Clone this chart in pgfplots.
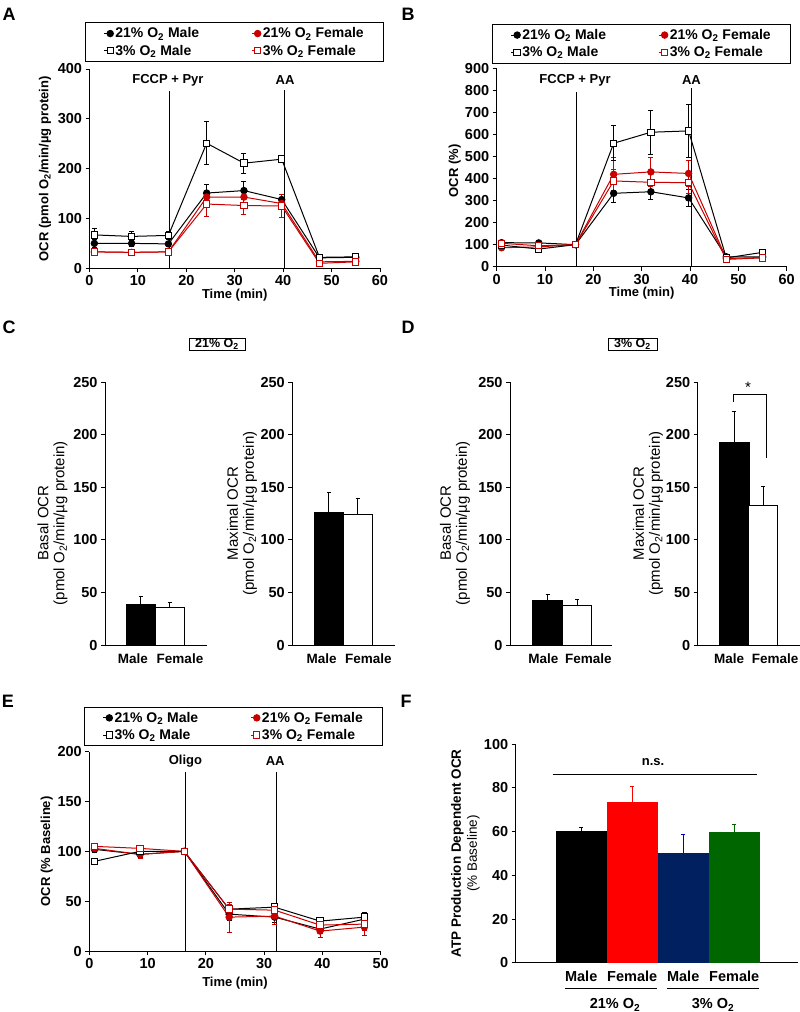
\documentclass[border=0pt]{standalone}
\usepackage{pgfplots}
\pgfplotsset{compat=1.18}
\usepackage{fontspec}
\setmainfont{Liberation Sans}

\definecolor{lred}{RGB}{200,0,0}
\definecolor{fred}{RGB}{255,0,0}
\definecolor{fnavy}{RGB}{0,32,96}
\definecolor{fgreen}{RGB}{0,102,0}
\definecolor{eblue}{RGB}{0,0,190}

\newcommand{\fs}{\fontsize{13}{15}\selectfont}
\newcommand{\ft}{\fontsize{14.5}{16}\selectfont}
\newcommand{\fl}{\fontsize{14}{17}\selectfont}
\newcommand{\fx}{\fontsize{13.5}{15}\selectfont}
\newcommand{\Ot}{O\textsubscript{2}}

\pgfplotsset{
  base/.style={scale only axis, axis x line=bottom, axis y line=left,
    axis line style={-, line width=1pt}, tick align=outside, major tick length=4pt,
    tick style={line width=1pt, black}, ticklabel style={font=\ft\bfseries},
    /pgf/number format/assume math mode=true, clip=false,
    label style={font=\fs\bfseries}},
  linechart/.style={base, legend columns=2, legend cell align=left,
    legend style={font=\fl\bfseries, draw=black, line width=1pt, anchor=south,
      inner xsep=18pt, inner ysep=3pt, row sep=1.5pt,
      /tikz/every even column/.append style={column sep=50pt}},
    legend image code/.code={\draw[mark repeat=2,mark phase=2,##1] plot coordinates {(0pt,0pt)(6pt,0pt)};}},
  s21m/.style={black, line width=1pt, mark=*, mark size=3.2pt, mark options={fill=black}},
  s21f/.style={lred, line width=1pt, mark=*, mark size=3.2pt, mark options={fill=lred}},
  s3m/.style={black, line width=1pt, mark=square*, mark size=3.2pt, mark options={fill=white}},
  s3f/.style={lred, line width=1pt, mark=square*, mark size=3.2pt, mark options={fill=white}},
  eb/.style={error bars/.cd, y dir=both, y explicit, error bar style={line width=1pt},
    error mark options={rotate=90, mark size=2.5pt, line width=1pt}},
  barax/.style={base, height=262.7pt, ymin=0, ymax=250, ytick={0,50,...,250},
    xmin=0, xtick style={draw=none}, xticklabel style={yshift=-1pt, font=\fx\bfseries},
    ylabel style={align=center, font=\fontsize{15}{16}\selectfont, anchor=center}},
  onebar/.style={ybar, bar width=#1, bar shift=0pt, line width=1pt},
  ebp/.style={error bars/.cd, y dir=plus, y explicit, error bar style={line width=1pt, #1},
    error mark options={rotate=90, mark size=2pt, line width=1pt, #1}},
}

\begin{document}
\begin{tikzpicture}
\path[use as bounding box] (0pt,0pt) rectangle (800pt,-1012pt);

% panel letters and boxed titles
\node[font=\fontsize{18}{20}\selectfont\bfseries] at (9pt,-14pt) {A};
\node[font=\fontsize{18}{20}\selectfont\bfseries] at (408pt,-14pt) {B};
\node[font=\fontsize{18}{20}\selectfont\bfseries] at (9pt,-327pt) {C};
\node[font=\fontsize{18}{20}\selectfont\bfseries] at (408pt,-327pt) {D};
\node[font=\fontsize{18}{20}\selectfont\bfseries] at (8pt,-701pt) {E};
\node[font=\fontsize{18}{20}\selectfont\bfseries] at (406pt,-701pt) {F};
\node[draw, line width=1pt, font=\fontsize{12.5}{13}\selectfont\bfseries, inner xsep=1pt, inner ysep=0.5pt,
  minimum width=56pt, minimum height=12pt] at (217pt,-344pt) {21\% \Ot};
\node[draw, line width=1pt, font=\fontsize{12.5}{13}\selectfont\bfseries, inner xsep=1pt, inner ysep=0.5pt,
  minimum width=49pt, minimum height=12pt] at (632.5pt,-344pt) {3\% \Ot};

% ---------- A ----------
\begin{axis}[linechart, at={(89.5pt,-268.3pt)}, anchor=south west,
  width=290.5pt, height=199.3pt, xmin=0, xmax=60, ymin=0, ymax=400,
  xtick={0,10,...,60}, ytick={0,100,...,400},
  xlabel={Time (min)}, ylabel={OCR (pmol \Ot/min/µg protein)},
  xlabel style={at={(axis description cs:0.5,-0.135)}, anchor=center, inner sep=0pt},
  ylabel style={at={(axis description cs:-0.153,0.5)}, anchor=center},
  legend style={at={(0.5,1.035)}}]
\addplot[black, line width=1pt, forget plot] coordinates {(16.6,0) (16.6,355)};
\addplot[black, line width=1pt, forget plot] coordinates {(40.3,0) (40.3,358)};
\node[font=\fs\bfseries] at (axis cs:16.2,378) {FCCP + Pyr};
\node[font=\fs\bfseries] at (axis cs:40.4,378) {AA};
\addplot[s21m, eb] coordinates {(1,50) +- (0,8) (8.7,50) +- (0,6) (16.3,49) +- (0,5) (24.2,151) +- (0,17) (31.9,156) +- (0,18) (39.7,138) +- (0,10) (47.5,21) +- (0,3) (55,22) +- (0,3)};
\addplot[s21f, eb] coordinates {(1,33) +- (0,6) (8.7,32) +- (0,5) (16.3,33) +- (0,4) (24.2,143) +- (0,12) (31.9,143) +- (0,12) (39.7,130) +- (0,12) (47.5,13) +- (0,2) (55,14) +- (0,2)};
\addplot[s3m, eb] coordinates {(1,67) +- (0,13) (8.7,64) +- (0,10) (16.3,66) +- (0,8) (24.2,251) +- (0,43) (31.9,211) +- (0,20) (39.7,219) +- (0,4) (47.5,22) +- (0,3) (55,23) +- (0,3)};
\addplot[s3f, eb] coordinates {(1,33) +- (0,6) (8.7,32) +- (0,5) (16.3,33) +- (0,4) (24.2,129) +- (0,25) (31.9,126) +- (0,19) (39.7,125) +- (0,23) (47.5,10) +- (0,2) (55,13) +- (0,2)};
\legend{21\% \Ot{} Male, 21\% \Ot{} Female, 3\% \Ot{} Male, 3\% \Ot{} Female}
\end{axis}

% ---------- B ----------
\begin{axis}[linechart, at={(496.7pt,-266.7pt)}, anchor=south west,
  width=290pt, height=198.4pt, xmin=0, xmax=60, ymin=0, ymax=900,
  xtick={0,10,...,60}, ytick={0,100,...,900},
  xlabel={Time (min)}, ylabel={OCR (\%)},
  xlabel style={at={(axis description cs:0.5,-0.134)}, anchor=center},
  ylabel style={at={(axis description cs:-0.145,0.483)}, anchor=center},
  legend style={at={(0.5,1.024)}}]
\addplot[black, line width=1pt, forget plot] coordinates {(16.55,0) (16.55,794)};
\addplot[black, line width=1pt, forget plot] coordinates {(40.3,0) (40.3,809)};
\node[font=\fs\bfseries] at (axis cs:16.2,847) {FCCP + Pyr};
\node[font=\fs\bfseries] at (axis cs:40.3,847) {AA};
\addplot[s21m, eb] coordinates {(1,109) +- (0,8) (8.7,108) +- (0,8) (16.3,100) +- (0,0) (24.2,333) +- (0,43) (31.9,340) +- (0,33) (39.7,312) +- (0,38) (47.5,45) +- (0,4) (55,45) +- (0,4)};
\addplot[s21f, eb] coordinates {(1,86) +- (0,8) (8.7,90) +- (0,8) (16.3,100) +- (0,0) (24.2,419) +- (0,75) (31.9,430) +- (0,65) (39.7,423) +- (0,60) (47.5,37) +- (0,4) (55,42) +- (0,4)};
\addplot[s3m, eb] coordinates {(1,98) +- (0,8) (8.7,80) +- (0,6) (16.3,100) +- (0,0) (24.2,560) +- (0,80) (31.9,610) +- (0,100) (39.7,616) +- (0,120) (47.5,40) +- (0,4) (55,65) +- (0,6)};
\addplot[s3f, eb] coordinates {(1,106) +- (0,8) (8.7,95) +- (0,8) (16.3,100) +- (0,0) (24.2,389) +- (0,50) (31.9,383) +- (0,45) (39.7,381) +- (0,50) (47.5,33) +- (0,4) (55,40) +- (0,4)};
\legend{21\% \Ot{} Male, 21\% \Ot{} Female, 3\% \Ot{} Male, 3\% \Ot{} Female}
\end{axis}

% ---------- C left ----------
\begin{axis}[barax, at={(105pt,-645pt)}, anchor=south west, width=101.7pt, xmax=101.7,
  xtick={28,75}, xticklabels={Male,Female},
  ylabel={Basal OCR\\(pmol \Ot/min/µg protein)},
  ylabel style={at={(axis description cs:-0.516,0.464)}}]
\addplot[onebar=29pt, fill=black, draw=black, ebp=black] coordinates {(35.5,39) +- (0,7)};
\addplot[onebar=29pt, fill=white, draw=black, ebp=black] coordinates {(64.5,36) +- (0,4)};
\end{axis}

% ---------- C right ----------
\begin{axis}[barax, at={(292.3pt,-645pt)}, anchor=south west, width=102.7pt, xmax=102.7,
  xtick={29.4,76}, xticklabels={Male,Female},
  ylabel={Maximal OCR\\(pmol \Ot/min/µg protein)},
  ylabel style={at={(axis description cs:-0.49,0.5)}}]
\addplot[onebar=29pt, fill=black, draw=black, ebp=black] coordinates {(36.2,126) +- (0,19)};
\addplot[onebar=29pt, fill=white, draw=black, ebp=black] coordinates {(65.2,124) +- (0,15)};
\end{axis}

% ---------- D left ----------
\begin{axis}[barax, at={(510pt,-645pt)}, anchor=south west, width=102pt, xmax=102,
  xtick={33.3,78.3}, xticklabels={Male,Female},
  ylabel={Basal OCR\\(pmol \Ot/min/µg protein)},
  ylabel style={at={(axis description cs:-0.54,0.464)}}]
\addplot[onebar=30pt, fill=black, draw=black, ebp=black] coordinates {(37.7,42) +- (0,6.5)};
\addplot[onebar=29pt, fill=white, draw=black, ebp=black] coordinates {(67.2,38) +- (0,5)};
\end{axis}

% ---------- D right ----------
\begin{axis}[barax, at={(697.7pt,-645pt)}, anchor=south west, width=102pt, xmax=102,
  xtick={31.5,77.5}, xticklabels={Male,Female},
  ylabel={Maximal OCR\\(pmol \Ot/min/µg protein)},
  ylabel style={at={(axis description cs:-0.487,0.5)}}]
\addplot[onebar=30pt, fill=black, draw=black, ebp=black] coordinates {(36.3,193) +- (0,29)};
\addplot[onebar=29pt, fill=white, draw=black, ebp=black] coordinates {(65.7,133) +- (0,18)};
\draw[line width=1pt] (axis cs:35.6,231.6) -- (axis cs:35.6,238.6) -- (axis cs:68.3,238.6) -- (axis cs:68.3,177.7);
\node[font=\fontsize{15}{16}\selectfont] at (axis cs:50.3,245) {*};
\end{axis}

% ---------- E ----------
\begin{axis}[linechart, at={(89.3pt,-951pt)}, anchor=south west,
  width=291.4pt, height=199.3pt, xmin=0, xmax=50, ymin=0, ymax=200,
  xtick={0,10,...,50}, ytick={0,50,...,200},
  xlabel={Time (min)}, ylabel={OCR (\% Baseline)},
  xlabel style={at={(axis description cs:0.5,-0.16)}, anchor=center},
  ylabel style={at={(axis description cs:-0.146,0.5)}, anchor=center},
  legend style={at={(0.496,1.027)}}]
\addplot[black, line width=1pt, forget plot] coordinates {(16.5,0) (16.5,180)};
\addplot[black, line width=1pt, forget plot] coordinates {(32.15,0) (32.15,180)};
\node[font=\fs\bfseries] at (axis cs:16.5,190.7) {Oligo};
\node[font=\fs\bfseries] at (axis cs:31.9,190.7) {AA};
\addplot[s21m, eb] coordinates {(0.9,102) +- (0,3) (8.7,97) +- (0,3) (16.3,100) +- (0,0) (24,37) +- (0,6) (31.8,34) +- (0,5) (39.6,22) +- (0,4) (47.2,32) +- (0,4)};
\addplot[s21f, eb] coordinates {(0.9,103) +- (0,3) (8.7,97) +- (0,4) (16.3,100) +- (0,0) (24,34) +- (0,15) (31.8,35) +- (0,8) (39.6,20) +- (0,6) (47.2,24) +- (0,8)};
\addplot[s3m, eb] coordinates {(0.9,90) +- (0,3) (8.7,100) +- (0,2) (16.3,100) +- (0,0) (24,42) +- (0,5) (31.8,44) +- (0,4) (39.6,30) +- (0,3) (47.2,34) +- (0,5)};
\addplot[s3f, eb] coordinates {(0.9,105) +- (0,3) (8.7,103) +- (0,2) (16.3,100) +- (0,0) (24,42) +- (0,5) (31.8,41) +- (0,4) (39.6,26) +- (0,4) (47.2,27) +- (0,6)};
\legend{21\% \Ot{} Male, 21\% \Ot{} Female, 3\% \Ot{} Male, 3\% \Ot{} Female}
\end{axis}

% ---------- F ----------
\begin{axis}[base, at={(515.7pt,-962.7pt)}, anchor=south west,
  width=282.3pt, height=218.4pt, xmin=0, xmax=282.3, ymin=0, ymax=100,
  ytick={0,20,...,100}, xtick={65.5,116.5,167.5,218.5},
  xticklabels={Male,Female,Male,Female}, xtick style={draw=none},
  xticklabel style={yshift=-1pt},
  ylabel={{\bfseries ATP Production Dependent OCR}\\(\% Baseline)},
  ylabel style={align=center, font=\fontsize{13.5}{16}\selectfont, at={(axis description cs:-0.178,0.5)}, anchor=center}]
\addplot[onebar=51pt, fill=black, draw=none, ebp=black] coordinates {(65.5,60.5) +- (0,1.5)};
\addplot[onebar=51pt, fill=fred, draw=none, ebp=fred] coordinates {(116.5,73.4) +- (0,7.2)};
\addplot[onebar=51pt, fill=fnavy, draw=none, ebp=eblue] coordinates {(167.5,50.4) +- (0,8.2)};
\addplot[onebar=51pt, fill=fgreen, draw=none, ebp=fgreen] coordinates {(218.5,59.8) +- (0,3.4)};
\draw[line width=1pt] (axis cs:37,86.3) -- (axis cs:241.6,86.3);
\node[font=\fs\bfseries] at (axis cs:137.3,92) {n.s.};
\draw[line width=1pt] (axis cs:49.3,-12) -- (axis cs:141.6,-12);
\draw[line width=1pt] (axis cs:151,-12) -- (axis cs:243.3,-12);
\node[font=\ft\bfseries] at (axis cs:99.3,-19.3) {21\% \Ot};
\node[font=\ft\bfseries] at (axis cs:197.3,-19.3) {3\% \Ot};
\end{axis}
\end{tikzpicture}
\end{document}
